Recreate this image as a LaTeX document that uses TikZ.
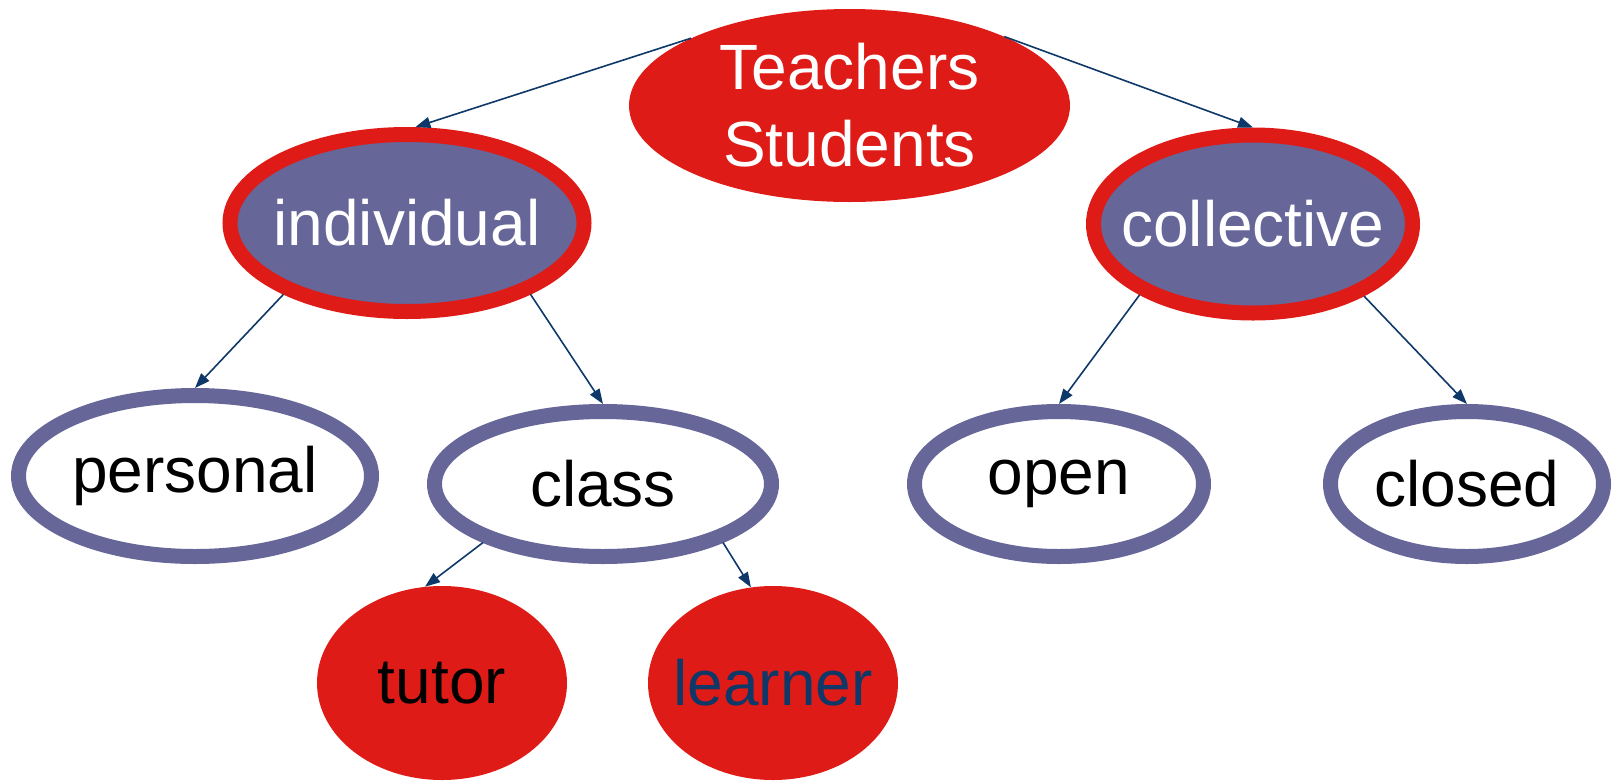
\documentclass[tikz,border=0pt]{standalone}
\usepackage{fontspec}
\setmainfont{Liberation Sans}
\usetikzlibrary{shapes.geometric,arrows.meta}
\definecolor{pptred}{RGB}{223,27,23}
\definecolor{pptpurple}{RGB}{102,102,153}
\definecolor{navy}{RGB}{14,56,104}
\begin{document}
\begin{tikzpicture}[x=1pt,y=-1pt,
  every node/.style={ellipse, inner sep=-30pt, font=\fontsize{64}{77}\selectfont},
  redblob/.style={fill=pptred, text=white},
  topic/.style={fill=pptpurple, draw=pptred, line width=15pt, text=white},
  leaf/.style={fill=white, draw=pptpurple, line width=15pt, text=black},
  link/.style={draw=navy, line width=1.6pt, -{Triangle[length=15pt,width=11pt]}}]
\useasboundingbox (0,0) rectangle (1618,780);
\node[redblob, minimum width=441pt, minimum height=193pt, align=center] (teach) at (849.5,105.5) {Teachers\\Students};
\node[topic, minimum width=354pt, minimum height=177pt] (indiv) at (407,223) {individual};
\node[topic, minimum width=319pt, minimum height=178pt] (coll) at (1253,224) {collective};
\node[leaf, minimum width=353pt, minimum height=161pt] (pers) at (195,476) {personal};
\node[leaf, minimum width=337pt, minimum height=145pt] (class) at (603,484) {class};
\node[leaf, minimum width=289pt, minimum height=145pt] (open) at (1059,484) {open};
\node[leaf, minimum width=273pt, minimum height=145pt] (closed) at (1467,484) {closed};
\node[redblob, text=black, minimum width=250pt, minimum height=194pt] (tutor) at (442,683) {tutor};
\node[redblob, text=navy, minimum width=250pt, minimum height=194pt] (learner) at (773,683) {learner};
\draw[link] (teach.157) -- (indiv.85);
\draw[link] (teach.24.5) -- (coll.north);
\draw[link] (indiv.210) -- (pers.north);
\draw[link] (indiv.330) -- (class.north);
\draw[link] (coll.212.5) -- (open.north);
\draw[link] (coll.327.7) -- (closed.north);
\draw[link] (class.206) -- (tutor.100.7);
\draw[link] (class.334) -- (learner.103);
\end{tikzpicture}
\end{document}
